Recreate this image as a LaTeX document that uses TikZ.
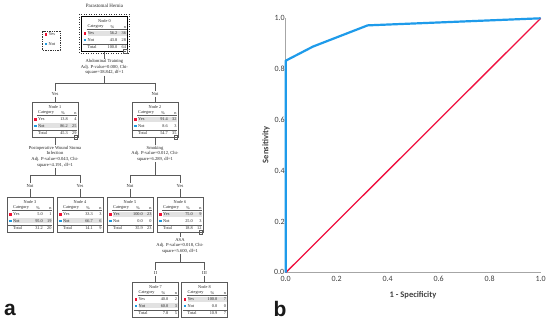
\documentclass[tikz,border=0pt]{standalone}
\usepackage{fontspec}
\setmainfont{Liberation Serif}
\newfontfamily\rocfont{Carlito}
\newfontfamily\panelfont{Liberation Sans}
\definecolor{tline}{HTML}{5A5A5A}
\definecolor{yesred}{HTML}{EE1133}
\definecolor{notblue}{HTML}{1E9BE0}
\definecolor{rowshade}{HTML}{E2E2E2}
\definecolor{rocblue}{HTML}{1E9BEA}
\definecolor{rocred}{HTML}{F01040}
\definecolor{axisgray}{HTML}{A6A6A6}
\definecolor{ticktext}{HTML}{404040}
\tikzset{
  tbox/.style={draw=tline, line width=0.6pt, minimum width=46pt, minimum height=35pt, inner sep=0pt, anchor=north, fill=white},
  ttext/.style={inner sep=0pt, font=\fontsize{4.3}{5}\selectfont, text=black!85},
  splittext/.style={inner sep=0.6pt, align=center, font=\fontsize{4.6}{5.6}\selectfont, anchor=north, text=black!85},
  blab/.style={inner sep=1pt, font=\fontsize{4.6}{5.6}\selectfont, text=black!85},
  tedge/.style={draw=tline, line width=0.6pt},
  ticklab/.style={inner sep=0pt, font=\rocfont\fontsize{8}{9}\selectfont, text=ticktext},
  axtitle/.style={inner sep=0pt, font=\rocfont\bfseries\fontsize{8.5}{10}\selectfont, text=ticktext},
  panellab/.style={inner sep=0pt, anchor=base west, font=\panelfont\bfseries\fontsize{21}{24}\selectfont, text=black!90}
}
\newcommand\tnode[9]{\def\TNname{#1}\def\TNx{#2}\def\TNy{#3}\def\TNnum{#4}\def\TNyp{#5}\def\TNyn{#6}\def\TNnp{#7}\def\TNnn{#8}\def\TNshade{#9}\tnodeB}
\newcommand\tnodeB[2]{%
  \node[tbox] (\TNname) at (\TNx,\TNy) {};
  \pgfmathsetmacro\TNL{\TNx-23}%
  \pgfmathsetmacro\TNR{\TNx+23}%
  \pgfmathsetmacro\TNs{\TNy+(\TNshade==1 ? 15 : 21.5)}%
  \fill[rowshade] (\TNL+6,\TNs) rectangle (\TNR-1,\TNs+5);
  \draw[tline, line width=0.35pt] (\TNL+5,\TNy+13.6) -- (\TNR-1,\TNy+13.6);
  \draw[tline, line width=0.35pt] (\TNL+1,\TNy+27.8) -- (\TNR-1,\TNy+27.8);
  \fill[yesred] (\TNL+2,\TNy+16.1) rectangle (\TNL+4.7,\TNy+18.8);
  \fill[notblue] (\TNL+2,\TNy+22.6) rectangle (\TNL+4.7,\TNy+25.3);
  \node[ttext] (\TNname-title) at (\TNx,\TNy+5.5) {Node \TNnum};
  \node[ttext, anchor=west] (\TNname-cat) at (\TNL+6,\TNy+11) {Category};
  \node[ttext, anchor=east] (\TNname-pct) at (\TNL+33,\TNy+11) {\%};
  \node[ttext, anchor=east] (\TNname-n) at (\TNR-1.3,\TNy+11) {n};
  \node[ttext, anchor=west] (\TNname-y) at (\TNL+6,\TNy+17.5) {Yes};
  \node[ttext, anchor=east] (\TNname-yp) at (\TNL+36,\TNy+17.5) {\TNyp};
  \node[ttext, anchor=east] (\TNname-yn) at (\TNR-1.3,\TNy+17.5) {\TNyn};
  \node[ttext, anchor=west] (\TNname-o) at (\TNL+6,\TNy+24) {Not};
  \node[ttext, anchor=east] (\TNname-op) at (\TNL+36,\TNy+24) {\TNnp};
  \node[ttext, anchor=east] (\TNname-on) at (\TNR-1.3,\TNy+24) {\TNnn};
  \node[ttext, anchor=west] (\TNname-t) at (\TNL+6,\TNy+31.2) {Total};
  \node[ttext, anchor=east] (\TNname-tp) at (\TNL+36,\TNy+31.2) {#1};
  \node[ttext, anchor=east] (\TNname-tn) at (\TNR-1.3,\TNy+31.2) {#2};
}
\newcommand\collapseicon[1]{%
  \draw[tline, fill=white, line width=0.4pt] ([shift={(-4.6pt,2pt)}]#1.south east) rectangle ([shift={(-1pt,-1.6pt)}]#1.south east);
  \draw[tline, line width=0.4pt] ([shift={(-3.9pt,0.2pt)}]#1.south east) -- ([shift={(-1.7pt,0.2pt)}]#1.south east);
}
\begin{document}
\begin{tikzpicture}[x=1pt, y=-1pt]
\useasboundingbox (0,0) rectangle (550,323);
\fill[white] (0,0) rectangle (550,323);

% ---------- panel a: tree ----------
\node[inner sep=0pt, font=\fontsize{5}{6}\selectfont, text=black!85] (title) at (104.5,6) {Parastomal Hernia};

% legend
\draw[black!80, line width=0.5pt, dash pattern=on 1.4pt off 1pt] (42.7,31.5) rectangle (60,50.5);
\fill[yesred] (44.6,33.2) rectangle (47.3,35.9);
\fill[notblue] (44.6,42.8) rectangle (47.3,45.5);
\node[ttext, anchor=west] (legyes) at (48.5,34.5) {Yes};
\node[ttext, anchor=west] (legnot) at (48.5,44.2) {Not};

\tnode{n0}{104.5}{16}{0}{56.2}{36}{43.8}{28}{1}{100.0}{64}
\tnode{n1}{55}{102}{1}{13.8}{4}{86.2}{25}{2}{45.3}{29}
\tnode{n2}{155}{102}{2}{91.4}{32}{8.6}{3}{1}{54.7}{35}
\tnode{n3}{30}{197}{3}{5.0}{1}{95.0}{19}{2}{31.2}{20}
\tnode{n4}{80}{197}{4}{33.3}{3}{66.7}{6}{2}{14.1}{9}
\tnode{n5}{130}{197}{5}{100.0}{23}{0.0}{0}{1}{35.9}{23}
\tnode{n6}{180}{197}{6}{75.0}{9}{25.0}{3}{1}{18.8}{12}
\tnode{n7}{155.5}{282}{7}{40.0}{2}{60.0}{3}{2}{7.8}{5}
\tnode{n8}{204.5}{282}{8}{100.0}{7}{0.0}{0}{1}{10.9}{7}

% selected root frame
\draw[black, line width=0.9pt] (n0.north west) rectangle (n0.south east);
\draw[black!80, line width=0.5pt, dotted] ([shift={(-1.6pt,1.6pt)}]n0.north west) rectangle ([shift={(1.6pt,-1.6pt)}]n0.south east);

\collapseicon{n0}
\collapseicon{n1}
\collapseicon{n2}
\collapseicon{n6}

% split texts
\node[splittext] (s0) at (104.5,58.6) {Abdominal Training\\Adj. P-value=0.000, Chi-\\square=38.842, df=1};
\node[splittext] (s1) at (55,145.3) {Postoperative Wound Stoma\\Infection\\Adj. P-value=0.043, Chi-\\square=4.191, df=1};
\node[splittext] (s2) at (155,145.3) {Smoking\\Adj. P-value=0.012, Chi-\\square=6.289, df=1};
\node[splittext] (s6) at (180,237.4) {ASA\\Adj. P-value=0.018, Chi-\\square=5.600, df=1};

% branch labels
\node[blab] (b1) at (55,94) {Yes};
\node[blab] (b2) at (155,94) {Not};
\node[blab] (b3) at (30,186) {Not};
\node[blab] (b4) at (80,186) {Yes};
\node[blab] (b5) at (130,186) {Not};
\node[blab] (b6) at (180,186) {Yes};
\node[blab] (b7) at (155.5,273) {II};
\node[blab] (b8) at (204.5,273) {III};

% junctions
\coordinate (j0) at (104.5,83);
\coordinate (j0l) at (55,83);
\coordinate (j0r) at (155,83);
\coordinate (j1) at (55,175);
\coordinate (j1l) at (30,175);
\coordinate (j1r) at (80,175);
\coordinate (j2) at (155,175);
\coordinate (j2l) at (130,175);
\coordinate (j2r) at (180,175);
\coordinate (j6) at (180,262.5);
\coordinate (j6l) at (155.5,262.5);
\coordinate (j6r) at (204.5,262.5);

% connectors
\draw[tedge] (n0.south) -- (s0.north);
\draw[tedge] (s0.south) -- (j0);
\draw[tedge] (j0l) -- (j0r);
\draw[tedge] (j0l) -- (b1.north);
\draw[tedge] (b1.south) -- (n1.north);
\draw[tedge] (j0r) -- (b2.north);
\draw[tedge] (b2.south) -- (n2.north);

\draw[tedge] (n1.south) -- (s1.north);
\draw[tedge] (s1.south) -- (j1);
\draw[tedge] (j1l) -- (j1r);
\draw[tedge] (j1l) -- (b3.north);
\draw[tedge] (b3.south) -- (n3.north);
\draw[tedge] (j1r) -- (b4.north);
\draw[tedge] (b4.south) -- (n4.north);

\draw[tedge] (n2.south) -- (s2.north);
\draw[tedge] (s2.south) -- (j2);
\draw[tedge] (j2l) -- (j2r);
\draw[tedge] (j2l) -- (b5.north);
\draw[tedge] (b5.south) -- (n5.north);
\draw[tedge] (j2r) -- (b6.north);
\draw[tedge] (b6.south) -- (n6.north);

\draw[tedge] (n6.south) -- (s6.north);
\draw[tedge] (s6.south) -- (j6);
\draw[tedge] (j6l) -- (j6r);
\draw[tedge] (j6l) -- (b7.north);
\draw[tedge] (b7.south) -- (n7.north);
\draw[tedge] (j6r) -- (b8.north);
\draw[tedge] (b8.south) -- (n8.north);

\node[panellab] (pa) at (4,316) {a};

% ---------- panel b: ROC ----------
\begin{scope}[shift={(285.7,272.7)}, x=255pt, y=254.4pt]
  \draw[axisgray, line width=0.6pt] (0,0) -- (0,1);
  \draw[axisgray, line width=0.6pt] (0,0) -- (1,0);
  \draw[rocred, line width=1.3pt] (0,0) -- (1,1);
  \draw[rocblue, line width=2.2pt, line join=round] (0,0) -- (0,0.8333) -- (0.1071,0.8889) -- (0.3214,0.9722) -- (1,1);
  \foreach \v/\t in {0.2/0.2,0.4/0.4,0.6/0.6,0.8/0.8,1/1.0}{
    \node[ticklab] (xt\t) at (\v,0) [yshift=-5.8pt] {\t};
    \node[ticklab, anchor=east] (yt\t) at (0,\v) [xshift=-0.7pt] {\t};
  }
  \node[ticklab] (xt0) at (0,0) [yshift=-6.6pt] {0.0};
  \node[ticklab, anchor=east] (yt0) at (0,0) [xshift=-1.2pt, yshift=0.9pt] {0.0};
\end{scope}
\node[axtitle] (xtitle) at (413,295) {1 - Specificity};
\node[axtitle, rotate=90] (ytitle) at (266,145) {Sensitivity};
\node[panellab] (pb) at (273.5,316.5) {b};
\end{tikzpicture}
\end{document}
